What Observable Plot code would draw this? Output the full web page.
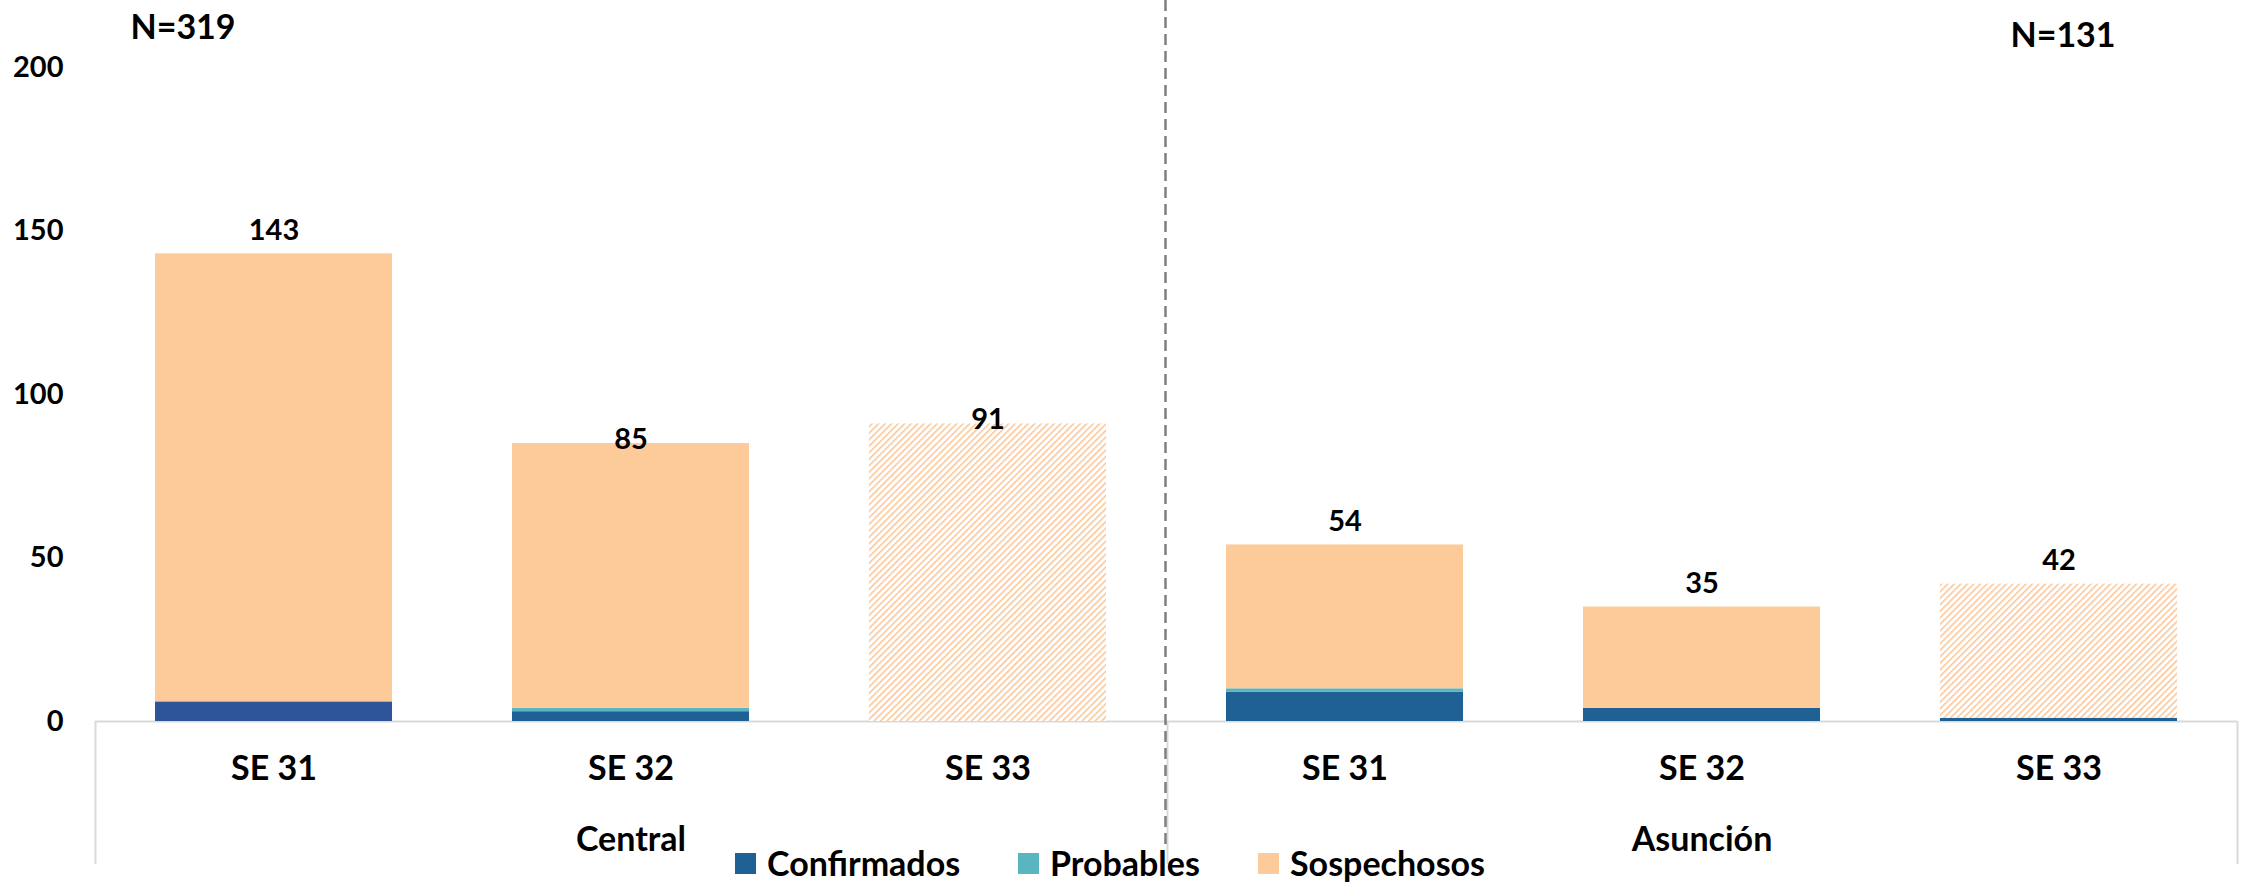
<!DOCTYPE html>
<html>
<head>
<meta charset="utf-8">
<script src="https://cdn.jsdelivr.net/npm/d3@7"></script>
<script src="https://cdn.jsdelivr.net/npm/@observablehq/plot@0.6"></script>
<style>
  html, body { margin: 0; padding: 0; background: #fff; }
  #wrap { position: relative; width: 2247px; height: 883px; overflow: hidden; font-family: Lato, "Open Sans", sans-serif; font-weight: bold; }
  .leg { position: absolute; top: 846px; display: flex; align-items: center; font-size: 34px; color: #000; line-height: 34px; height: 34px; }
  .sw { width: 21px; height: 21px; margin-right: 11px; display: inline-block; }
</style>
</head>
<body>
<svg width="0" height="0" style="position:absolute">
  <defs>
    <pattern id="hatch" patternUnits="userSpaceOnUse" width="4.6" height="4.6" patternTransform="rotate(45)">
      <rect width="4.6" height="4.6" fill="#ffffff"></rect>
      <line x1="0" y1="0" x2="0" y2="4.6" stroke="#FCC697" stroke-width="3.1"></line>
    </pattern>
  </defs>
</svg>
<div id="wrap"></div>
<script>
// ---- data ----
const regions = ["Central", "Central", "Central", "Asunción", "Asunción", "Asunción"];
const weeks = ["SE 31", "SE 32", "SE 33", "SE 31", "SE 32", "SE 33"];
const confirmados = [6, 3, 0, 9, 4, 1];
const probables = [0, 1, 0, 1, 0, 0];
const sospechosos = [137, 81, 91, 44, 31, 41];
const totals = [143, 85, 91, 54, 35, 42];
const incompleta = [false, false, true, false, false, true];
const series = ["Confirmados", "Probables", "Sospechosos"];
const nLabels = ["N=319", "N=131"];
const yTicks = [0, 50, 100, 150, 200];

// ---- style ----
const colors = {Confirmados: "#1F6095", Probables: "#59B6C0", Sospechosos: "#FDCA99"};
const firstBlue = "#2E5597";

const W = 2247, H = 883, ml = 95, mr = 10, mt = 67, mb = 162;
const step = (W - ml - mr) / weeks.length;

const ids = weeks.map((w, i) => regions[i] + " " + w);
const cats = ids.map((id, i) => ({id, week: weeks[i], region: regions[i], total: totals[i], i}));
const rows = [];
ids.forEach((id, i) => {
  const vals = [confirmados[i], probables[i], sospechosos[i]];
  series.forEach((s, k) => rows.push({id, serie: s, value: vals[k], hatched: incompleta[i] && s === "Sospechosos", i}));
});
const fillFor = d => d.hatched ? "url(#hatch)" : (d.serie === "Confirmados" && d.i === 0 ? firstBlue : colors[d.serie]);

const groupCenters = [{id: ids[1], region: regions[1]}, {id: ids[4], region: regions[4]}];
const lowLabels = new Set([ids[1], ids[2]]);

const plot = Plot.plot({
  width: W, height: H,
  marginLeft: ml, marginRight: mr, marginTop: mt, marginBottom: mb,
  style: {fontFamily: "Lato, 'Open Sans', sans-serif", fontWeight: "bold", color: "#000", background: "transparent"},
  x: {domain: ids, paddingInner: 0.336, paddingOuter: 0.168, axis: null},
  y: {domain: [0, 200], axis: null},
  color: {type: "identity"},
  marks: [
    Plot.ruleY([0], {stroke: "#d9d9d9", strokeWidth: 2}),
    Plot.ruleX([ids[0]], {x: d => d, dx: -step / 2, insetTop: H - mb - mt, insetBottom: -143, stroke: "#d9d9d9", strokeWidth: 2}),
    Plot.ruleX([ids[3]], {x: d => d, dx: -step / 2 + 1, insetTop: H - mb - mt, insetBottom: -143, stroke: "#d9d9d9", strokeWidth: 2}),
    Plot.ruleX([ids[5]], {x: d => d, dx: step / 2, insetTop: H - mb - mt, insetBottom: -143, stroke: "#d9d9d9", strokeWidth: 2}),
    Plot.barY(rows, Plot.stackY({x: "id", y: "value", fill: fillFor, order: null})),
    Plot.ruleX([ids[3]], {x: d => d, dx: -step / 2 - 1, insetTop: -mt, insetBottom: -129, stroke: "#7f7f7f", strokeWidth: 2.5, strokeDasharray: "11,6"}),
    Plot.axisY({ticks: yTicks, tickSize: 0, tickPadding: 32, fontSize: 29, fontWeight: "bold", label: null}),
    Plot.text(cats.filter(d => !lowLabels.has(d.id)), {x: "id", y: "total", text: d => String(d.total), dy: -23, fontSize: 29, fontWeight: "bold", fill: "#000"}),
    Plot.text(cats.filter(d => lowLabels.has(d.id)), {x: "id", y: "total", text: d => String(d.total), dy: -4, fontSize: 29, fontWeight: "bold", fill: "#000"}),
    Plot.text(cats, {x: "id", text: "week", frameAnchor: "bottom", dy: 58, fontSize: 34, fontWeight: "bold", fill: "#000"}),
    Plot.text(groupCenters, {x: "id", text: "region", frameAnchor: "bottom", dy: 129, fontSize: 34, fontWeight: "bold", fill: "#000"}),
    Plot.text([nLabels[0]], {x: () => ids[0], text: d => d, frameAnchor: "top", dx: -91, dy: -53, fontSize: 34, fontWeight: "bold", fill: "#000"}),
    Plot.text([nLabels[1]], {x: () => ids[5], text: d => d, frameAnchor: "top", dx: 4, dy: -45, fontSize: 34, fontWeight: "bold", fill: "#000"})
  ]
});

const wrap = document.getElementById("wrap");
wrap.appendChild(plot);

// legend (HTML, overlaid on the bottom edge)
const legPos = [735, 1018, 1258];
series.forEach((s, k) => {
  const item = document.createElement("div");
  item.className = "leg";
  item.style.left = legPos[k] + "px";
  const sw = document.createElement("span");
  sw.className = "sw";
  sw.style.background = colors[s];
  item.appendChild(sw);
  item.appendChild(document.createTextNode(s));
  wrap.appendChild(item);
});
</script>
</body>
</html>
